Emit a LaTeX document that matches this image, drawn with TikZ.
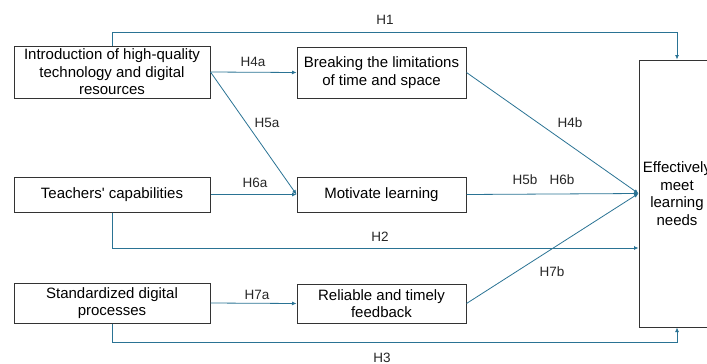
\documentclass[tikz,border=0pt]{standalone}
\usepackage{fontspec}
\setmainfont{Liberation Sans}
\usetikzlibrary{arrows.meta}
\definecolor{linkblue}{RGB}{42,115,148}

\begin{document}
\begin{tikzpicture}[
        x = 1pt, y = -1pt,
        box/.style = {
                draw = black!80,
                line width = 1pt,
                align = center,
                minimum width = #1,
                inner sep = 1pt,
                font = \fontsize{15}{17.5}\selectfont
            },
            box/.default = 196pt,
        link/.style = {
                draw = linkblue,
                line width = 0.8pt,
                -{Latex[length=4.5pt, width=4pt]}
            },
        hyp/.style = {
                font = \fontsize{13.5}{15}\selectfont,
                text = black!85,
                inner sep = 0pt
            }
        ]
        \clip (0,0) rectangle (707,364);
        
        % left column
        \node[box, minimum height=52pt] (intro) at (112,72) {Introduction of high-quality\\technology and digital\\resources};
        \node[box, minimum height=35pt] (teach) at (112,194.5) {Teachers\textquotesingle{} capabilities};
        \node[box, minimum height=40pt] (std) at (112,303) {Standardized digital\\processes};
        
        % middle column
        \node[box=169pt, minimum height=51pt] (brk) at (381.5,72.5) {Breaking the limitations\\of time and space};
        \node[box=169pt, minimum height=35pt] (mot) at (381.5,194.5) {Motivate learning};
        \node[box=169pt, minimum height=39pt] (rel) at (381.5,303.5) {Reliable and timely\\feedback};
        
        % outcome
        \node[box=76pt, minimum height=267pt] (eff) at (677,193.5) {Effectively\\meet\\learning\\needs};
        
        % direct paths
        \draw[link] (intro.north) -- (intro.north |- 0,32) -| (eff.north);
        \draw[link] (teach.south) -- (teach.south |- 0,248) -- (eff.west |- 0,248);
        \draw[link] (std.south) -- (std.south |- 0,342) -| (eff.south);
        
        % mediated paths
        \draw[link] (intro.east) -- (brk.west);
        \draw[link] (intro.east) -- (mot.west);
        \draw[link] (teach.east) -- (mot.west);
        \draw[link] (std.east) -- (rel.west);
        \draw[link] (brk.east) -- (eff.west);
        \draw[link] (mot.east) -- (eff.west);
        \draw[link] (rel.east) -- (eff.west);
        
        % hypothesis labels
        \node[hyp] (h1) at (385,20) {H1};
        \node[hyp] (h2) at (380,237) {H2};
        \node[hyp] (h3) at (382,358) {H3};
        \node[hyp] (h4a) at (253,62) {H4a};
        \node[hyp] (h4b) at (570,123) {H4b};
        \node[hyp] (h5a) at (267,123) {H5a};
        \node[hyp] (h5b) at (525,180) {H5b};
        \node[hyp] (h6a) at (255,183) {H6a};
        \node[hyp] (h6b) at (562,180) {H6b};
        \node[hyp] (h7a) at (257,295) {H7a};
        \node[hyp] (h7b) at (552,272) {H7b};
        
    \end{tikzpicture}
\end{document}
